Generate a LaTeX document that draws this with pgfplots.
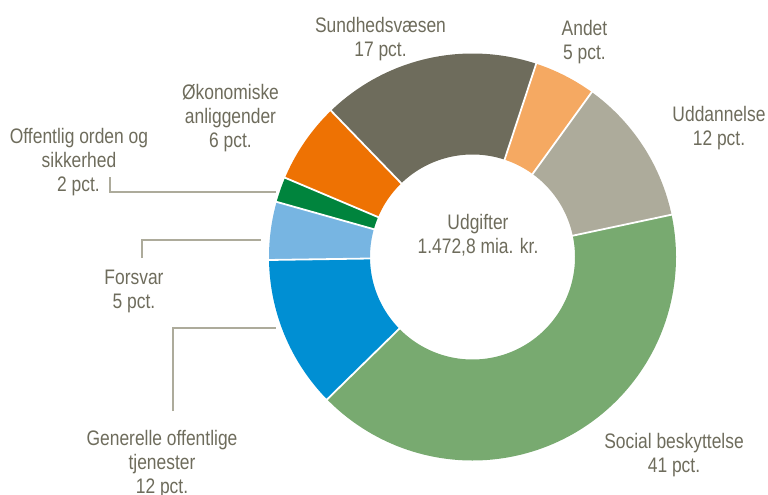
\documentclass[border=0pt]{standalone}
\usepackage{pgfplots}
\pgfplotsset{compat=1.18}
\usepackage{fontspec}
\setmainfont{Liberation Sans}[FakeStretch=0.83]
\definecolor{soc}{RGB}{120,170,112}
\definecolor{udd}{RGB}{173,171,155}
\definecolor{andet}{RGB}{245,169,98}
\definecolor{sund}{RGB}{110,108,92}
\definecolor{okon}{RGB}{238,114,3}
\definecolor{off}{RGB}{0,132,61}
\definecolor{fors}{RGB}{119,181,226}
\definecolor{gen}{RGB}{0,143,211}
\definecolor{txt}{RGB}{110,108,92}
\definecolor{leader}{RGB}{173,171,155}
% shares in percent
\def\vUdd{11.7}\def\vAndet{4.9}\def\vSund{17.3}\def\vOkon{6.4}
\def\vOff{2.0}\def\vFors{4.6}\def\vGen{12.1}\def\vSoc{41.0}
\def\cx{472.5}\def\cy{257}\def\rmid{153}
\begin{document}
\begin{tikzpicture}[lbl/.style={anchor=base, inner sep=0pt, text=txt, font=\fontsize{21}{24}\selectfont}]
\pgfmathsetmacro\aA{12}
\pgfmathsetmacro\aB{\aA+3.6*\vUdd}
\pgfmathsetmacro\aC{\aB+3.6*\vAndet}
\pgfmathsetmacro\aD{\aC+3.6*\vSund}
\pgfmathsetmacro\aE{\aD+3.6*\vOkon}
\pgfmathsetmacro\aF{\aE+3.6*\vOff}
\pgfmathsetmacro\aG{\aF+3.6*\vFors}
\pgfmathsetmacro\aH{\aG+3.6*\vGen}
\pgfmathsetmacro\aI{\aH+3.6*\vSoc}
\begin{axis}[width=768pt,height=495pt,scale only axis,
  xmin=0,xmax=768,ymin=0,ymax=495,y dir=reverse,hide axis,clip=false]
\addplot[udd, mark=none, line width=101pt, domain=\aA:\aB, samples=60] ({\cx+\rmid*cos(x)},{\cy-\rmid*sin(x)});
\addplot[andet, mark=none, line width=101pt, domain=\aB:\aC, samples=40] ({\cx+\rmid*cos(x)},{\cy-\rmid*sin(x)});
\addplot[sund, mark=none, line width=101pt, domain=\aC:\aD, samples=80] ({\cx+\rmid*cos(x)},{\cy-\rmid*sin(x)});
\addplot[okon, mark=none, line width=101pt, domain=\aD:\aE, samples=40] ({\cx+\rmid*cos(x)},{\cy-\rmid*sin(x)});
\addplot[off, mark=none, line width=101pt, domain=\aE:\aF, samples=20] ({\cx+\rmid*cos(x)},{\cy-\rmid*sin(x)});
\addplot[fors, mark=none, line width=101pt, domain=\aF:\aG, samples=40] ({\cx+\rmid*cos(x)},{\cy-\rmid*sin(x)});
\addplot[gen, mark=none, line width=101pt, domain=\aG:\aH, samples=60] ({\cx+\rmid*cos(x)},{\cy-\rmid*sin(x)});
\addplot[soc, mark=none, line width=101pt, domain=\aH:\aI, samples=150] ({\cx+\rmid*cos(x)},{\cy-\rmid*sin(x)});
% separators
\addplot[white, mark=none, line width=1.8pt, domain=100:206, samples=2] ({\cx+x*cos(\aA)},{\cy-x*sin(\aA)});
\addplot[white, mark=none, line width=1.8pt, domain=100:206, samples=2] ({\cx+x*cos(\aB)},{\cy-x*sin(\aB)});
\addplot[white, mark=none, line width=1.8pt, domain=100:206, samples=2] ({\cx+x*cos(\aC)},{\cy-x*sin(\aC)});
\addplot[white, mark=none, line width=1.8pt, domain=100:206, samples=2] ({\cx+x*cos(\aD)},{\cy-x*sin(\aD)});
\addplot[white, mark=none, line width=1.8pt, domain=100:206, samples=2] ({\cx+x*cos(\aE)},{\cy-x*sin(\aE)});
\addplot[white, mark=none, line width=1.8pt, domain=100:206, samples=2] ({\cx+x*cos(\aF)},{\cy-x*sin(\aF)});
\addplot[white, mark=none, line width=1.8pt, domain=100:206, samples=2] ({\cx+x*cos(\aG)},{\cy-x*sin(\aG)});
\addplot[white, mark=none, line width=1.8pt, domain=100:206, samples=2] ({\cx+x*cos(\aH)},{\cy-x*sin(\aH)});
% leader lines
\addplot[leader, mark=none, line width=1.5pt] coordinates {(110,177) (110,192) (276,192)};
\addplot[leader, mark=none, line width=1.5pt] coordinates {(142,258) (142,240) (261,240)};
\addplot[leader, mark=none, line width=1.5pt] coordinates {(173,411) (173,328) (276,328)};
% labels
\node[lbl] at (axis cs:380.5,32.3) {Sundhedsvæsen};
\node[lbl] at (axis cs:380.5,56.3) {17 pct.};
\node[lbl] at (axis cs:584.5,35.5) {Andet};
\node[lbl] at (axis cs:584.5,59.5) {5 pct.};
\node[lbl] at (axis cs:719,121.5) {Uddannelse};
\node[lbl] at (axis cs:719,145) {12 pct.};
\node[lbl] at (axis cs:230.5,99.3) {Økonomiske};
\node[lbl] at (axis cs:230.5,123) {anliggender};
\node[lbl] at (axis cs:230.5,147) {6 pct.};
\node[lbl] at (axis cs:79,143.3) {Offentlig orden og};
\node[lbl] at (axis cs:79,167.5) {sikkerhed};
\node[lbl] at (axis cs:78.5,191.5) {2 pct.};
\node[lbl] at (axis cs:134,284) {Forsvar};
\node[lbl] at (axis cs:134,308.3) {5 pct.};
\node[lbl] at (axis cs:162,445) {Generelle offentlige};
\node[lbl] at (axis cs:162,469) {tjenester};
\node[lbl] at (axis cs:162,493) {12 pct.};
\node[lbl] at (axis cs:674,448.3) {Social beskyttelse};
\node[lbl] at (axis cs:674,472.5) {41 pct.};
\node[lbl] at (axis cs:478,229.3) {Udgifter};
\node[lbl] at (axis cs:478,253.3) {1.472,8 mia. kr.};
\end{axis}
\pgfresetboundingbox
\path[use as bounding box] (current axis.south west) rectangle (current axis.north east);
\end{tikzpicture}
\end{document}
